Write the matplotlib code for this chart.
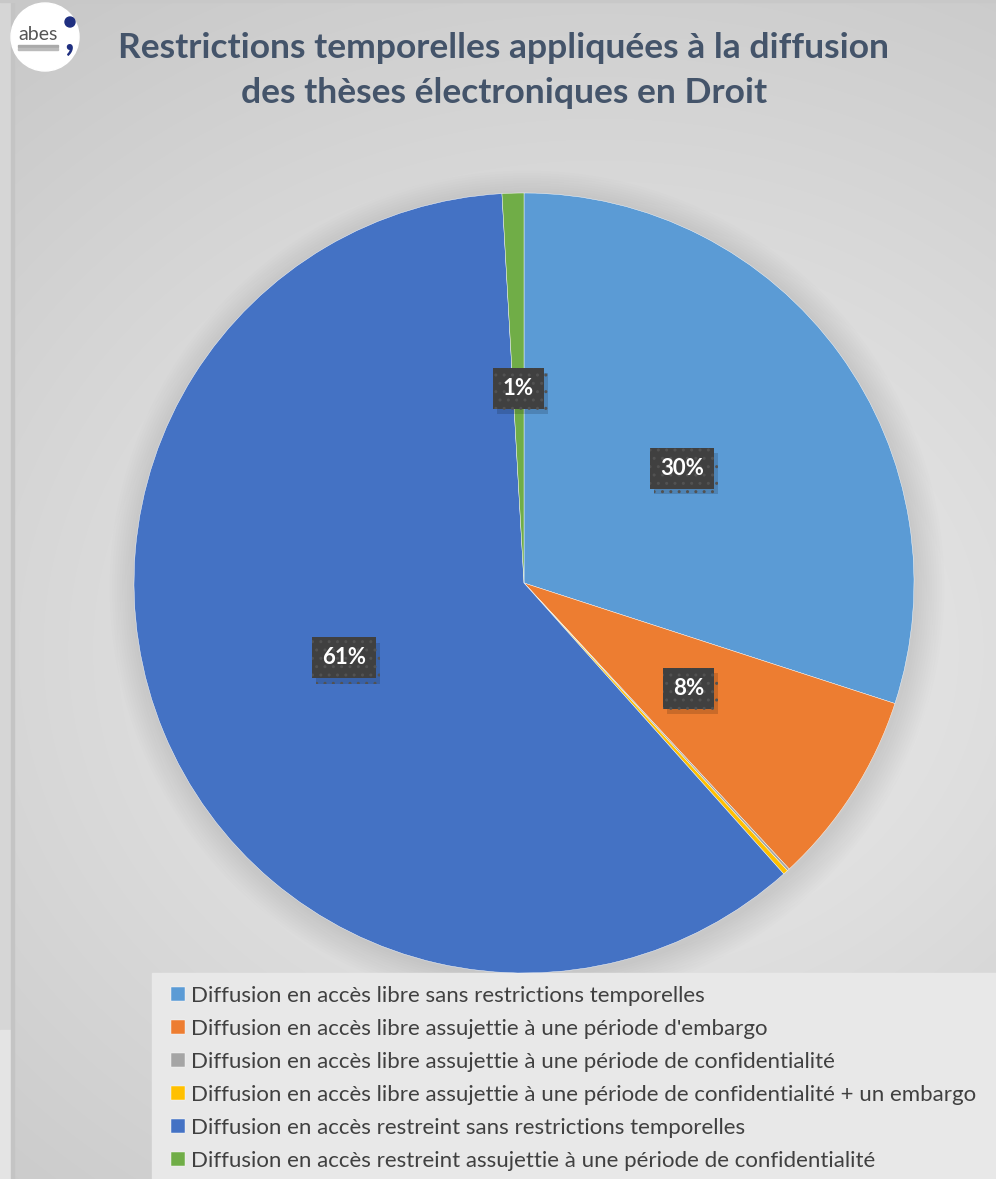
import matplotlib.pyplot as plt
import matplotlib.patheffects as pe
import numpy as np
from matplotlib.patches import Circle, Rectangle

# data (shares in %)
categories = [
    "Diffusion en accès libre sans restrictions temporelles",
    "Diffusion en accès libre assujettie à une période d'embargo",
    "Diffusion en accès libre assujettie à une période de confidentialité",
    "Diffusion en accès libre assujettie à une période de confidentialité + un embargo",
    "Diffusion en accès restreint sans restrictions temporelles",
    "Diffusion en accès restreint assujettie à une période de confidentialité",
]
shares = [30.0, 8.1, 0.1, 0.2, 60.7, 0.9]
colors = ["#5B9BD5", "#ED7D31", "#A5A5A5", "#FFC000", "#4472C4", "#70AD47"]
title = "Restrictions temporelles appliquées à la diffusion\ndes thèses électroniques en Droit"

W, H = 996, 1179
plt.rcParams['font.family'] = ['Lato', 'DejaVu Sans']

fig = plt.figure(figsize=(W / 100, H / 100), dpi=100)

# background panel in pixel coordinates
bg = fig.add_axes([0, 0, 1, 1])
bg.set_xlim(0, W)
bg.set_ylim(H, 0)
bg.axis('off')

yy, xx = np.mgrid[0:H, 0:W]
d = np.sqrt(((xx - 600) / 950.0) ** 2 + ((yy - 650) / 800.0) ** 2)
grad = 0.935 - 0.15 * np.clip(d, 0, 1)
bg.imshow(np.dstack([grad] * 3), extent=(0, W, H, 0), aspect='auto', zorder=0,
          interpolation='bilinear')

# left strip and border line
bg.add_patch(Rectangle((0, 0), 12, 1030, color='#d6d6d6', zorder=1))
bg.add_patch(Rectangle((0, 1030), 12, H - 1030, color='#e4e4e4', zorder=1))
bg.add_patch(Rectangle((11, 0), 3, H, color='#c4c4c4', zorder=1))
bg.add_patch(Rectangle((0, 0), W, 2, color='#c8c8c8', zorder=1))

# soft shadow around the pie
cx, cy, R = 524, 583, 390
for i in range(12):
    bg.add_patch(Circle((cx + 3, cy + 5), R + 2.5 * i, color='k', alpha=0.008, lw=0, zorder=2))

# legend background
bg.add_patch(Rectangle((152, 973), W - 152, H - 973, color='#e8e8e8', zorder=3))

# logo
bg.add_patch(Circle((45, 37), 34, color='white', zorder=4))
bg.text(38, 34, "abes", fontsize=14, color='#555555', ha='center', va='center', zorder=5)
bg.add_patch(Rectangle((18, 45), 40, 1.5, color='#aaaaaa', zorder=5))
bg.add_patch(Rectangle((18, 48), 40, 1.5, color='#bbbbbb', zorder=5))
bg.add_patch(Circle((70, 22), 5, color='#1f2f80', zorder=5))
bg.text(69, 38, ",", fontsize=30, fontweight='bold', color='#1f2f80', ha='center', va='center', zorder=5)

# title
lines = title.split("\n")
bg.text(504, 48, lines[0], fontsize=25.5, fontweight='bold', color='#44546A',
        ha='center', va='center', zorder=5)
bg.text(504, 93, lines[1], fontsize=25.5, fontweight='bold', color='#44546A',
        ha='center', va='center', zorder=5)

# pie
ax = fig.add_axes([(cx - R) / W, (H - cy - R) / H, 2 * R / W, 2 * R / H])
ax.set_facecolor('none')
wedges, _ = ax.pie(shares, colors=colors, startangle=90, counterclock=False,
                   wedgeprops=dict(edgecolor='white', linewidth=0.3))
ax.set_xlim(-1, 1)
ax.set_ylim(-1, 1)
ax.set_aspect('equal')

# percentage labels in dark boxes
start = 90.0
for share in shares:
    mid = np.deg2rad(start - share * 360 / 100 / 2)
    start -= share * 360 / 100
    if round(share) < 1:
        continue
    x, y = 0.5 * np.cos(mid), 0.5 * np.sin(mid)
    t = ax.text(x, y, f"{round(share):.0f}%", fontsize=16, fontweight='bold', color='white',
                ha='center', va='center',
                bbox=dict(boxstyle='square,pad=0.45', facecolor='#404040', edgecolor='#525252',
                          hatch='..', lw=0))
    t.get_bbox_patch().set_path_effects([
        pe.SimplePatchShadow(offset=(3, -4), shadow_rgbFace='black', alpha=0.15), pe.Normal()])

# legend
fig.legend(wedges, categories, loc='upper left', bbox_to_anchor=(160 / W, 1 - 975 / H),
           frameon=False, fontsize=16, labelcolor='#404040', handlelength=0.62,
           handleheight=0.62, handletextpad=0.28, labelspacing=0.58, borderpad=0)

fig.savefig('out.png', dpi=100)
